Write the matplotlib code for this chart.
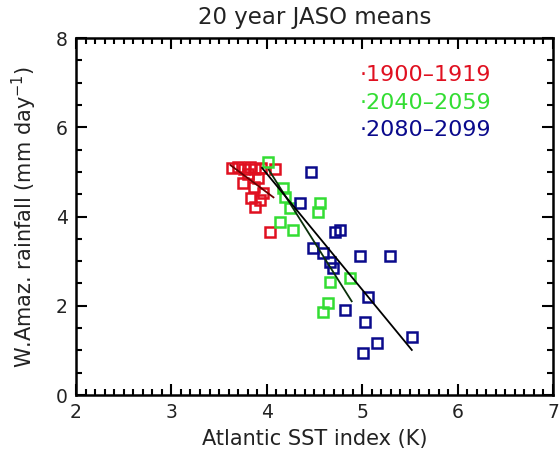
import matplotlib
matplotlib.use("Agg")
from matplotlib import pyplot as plt
from matplotlib.ticker import MultipleLocator

# 1900-1919
red_x = [3.64, 3.70, 3.76, 3.82, 3.88, 3.94, 4.09, 3.75, 3.80, 3.87, 3.96, 3.83, 3.93, 3.88, 4.03, 3.91]
red_y = [5.08, 5.10, 5.07, 5.10, 5.06, 5.09, 5.06, 4.75, 4.95, 4.66, 4.53, 4.42, 4.37, 4.22, 3.65, 4.87]
# 2040-2059
green_x = [4.01, 4.17, 4.19, 4.24, 4.14, 4.27, 4.56, 4.54, 4.87, 4.66, 4.64, 4.59]
green_y = [5.22, 4.64, 4.44, 4.19, 3.88, 3.70, 4.30, 4.10, 2.62, 2.53, 2.06, 1.86]
# 2080-2099
blue_x = [4.46, 4.35, 4.71, 4.77, 4.48, 4.59, 4.69, 4.66, 4.98, 5.29, 5.06, 4.82, 5.03, 5.52, 5.16, 5.01]
blue_y = [5.00, 4.30, 3.65, 3.70, 3.30, 3.18, 2.85, 2.98, 3.12, 3.12, 2.20, 1.91, 1.64, 1.30, 1.17, 0.94]

# regression lines (end points)
fit_red_x, fit_red_y = [3.62, 4.07], [5.15, 4.43]
fit_green_x, fit_green_y = [4.02, 4.89], [5.05, 2.10]
fit_all_x, fit_all_y = [3.95, 5.52], [5.09, 1.01]

labels = ["1900\u20131919", "2040\u20132059", "2080\u20132099"]
c_red, c_green, c_blue = "#e01020", "#33dd33", "#0a0a8c"

fig = plt.figure(figsize=(5.6, 4.65), dpi=100)
ax = fig.add_axes([0.1357, 0.1505, 0.8518, 0.7677])

ms = dict(marker="s", linestyle="none", markersize=7.5, markerfacecolor="none", markeredgewidth=1.8)
ax.plot(red_x, red_y, color=c_red, **ms)
ax.plot(green_x, green_y, color=c_green, **ms)
ax.plot(blue_x, blue_y, color=c_blue, **ms)

ax.plot(fit_red_x, fit_red_y, color="#6a0000", lw=1.3)
ax.plot(fit_green_x, fit_green_y, color="#0b300b", lw=1.3)
ax.plot(fit_all_x, fit_all_y, color="black", lw=1.3)

ax.set_xlim(2, 7)
ax.set_ylim(0, 8)
ax.xaxis.set_major_locator(MultipleLocator(1))
ax.xaxis.set_minor_locator(MultipleLocator(0.1))
ax.yaxis.set_major_locator(MultipleLocator(2))
ax.yaxis.set_minor_locator(MultipleLocator(0.5))
ax.tick_params(which="both", direction="in", top=True, right=True, width=1.5,
               labelsize=13.5, pad=6, labelcolor="#222222")
ax.tick_params(which="major", length=8)
ax.tick_params(which="minor", length=4)
for s in ax.spines.values():
    s.set_linewidth(1.8)

for i, (lab, c) in enumerate(zip(labels, [c_red, c_green, c_blue])):
    ax.text(0.594, 0.896 - i * 0.077, "\u00b7" + lab, color=c, fontsize=16,
            transform=ax.transAxes, va="center", ha="left")

ax.set_title("20 year JASO means", fontsize=16.5, pad=10, color="#222222")
ax.set_xlabel("Atlantic SST index (K)", fontsize=15, labelpad=5, color="#222222")
ax.set_ylabel("W.Amaz. rainfall (mm day$^{-1}$)", fontsize=15, labelpad=12, color="#222222")

fig.savefig("out.png", dpi=100)
